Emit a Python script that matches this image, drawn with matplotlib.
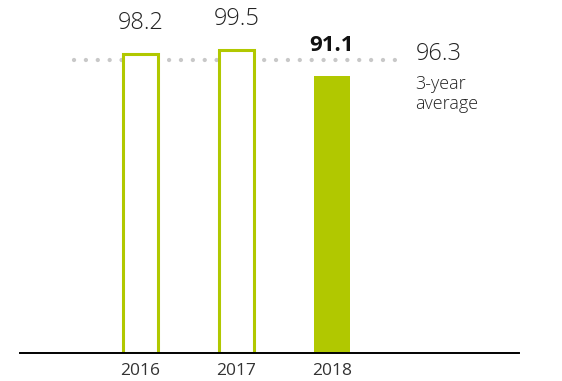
import matplotlib.pyplot as plt

plt.rcParams['font.family'] = ['Open Sans', 'DejaVu Sans']

years = ['2016', '2017', '2018']
values = [98.2, 99.5, 91.1]
average = 96.3
avg_label = '3-year\naverage'

green = '#b1c800'

fig = plt.figure(figsize=(5.62, 3.81), dpi=100)
ax = fig.add_axes([20/562, 28/381, 499/562, 353/381])

x = list(range(len(years)))

# dotted average line, behind the bars
ax.plot([-0.695, 2.74], [average, average], color='#c8c8c8', lw=3.1,
        linestyle=(0, (0.01, 2.75)), dash_capstyle='round', zorder=1)

for i, v in enumerate(values):
    last = i == len(values) - 1
    if last:
        ax.bar(x[i], v, width=0.38, color=green, edgecolor=green, lw=0, zorder=2)
        ax.annotate(f'{v}', (x[i], v), xytext=(0, 18), textcoords='offset points',
                    ha='center', va='baseline', fontsize=16, fontweight='bold', color='#111111')
    else:
        ax.bar(x[i], v, width=0.365, color='white', edgecolor=green, lw=2.2, zorder=2)
        ax.annotate(f'{v}', (x[i], v), xytext=(0, 18), textcoords='offset points',
                    ha='center', va='baseline', fontsize=17, fontweight='light', color='#222222')

ax.annotate(f'{average}', (2.74, average), xytext=(9, 0), textcoords='offset points',
            ha='left', va='baseline', fontsize=17, fontweight='light', color='#222222')
ax.annotate(avg_label, (2.74, average), xytext=(9, -11), textcoords='offset points',
            ha='left', va='top', fontsize=13, fontweight='light', color='#222222',
            linespacing=1.15)

ax.set_xlim(-1.258, 3.953)
ax.set_ylim(0, 116)
ax.set_xticks(x)
ax.set_xticklabels(years, fontsize=12.5, color='#333333')
ax.tick_params(axis='x', length=0, pad=7.5)
ax.set_yticks([])
for s in ['left', 'right', 'top']:
    ax.spines[s].set_visible(False)
ax.spines['bottom'].set_linewidth(1.4)
ax.spines['bottom'].set_color('black')
ax.patch.set_alpha(0)

fig.savefig('out.png', dpi=100)
